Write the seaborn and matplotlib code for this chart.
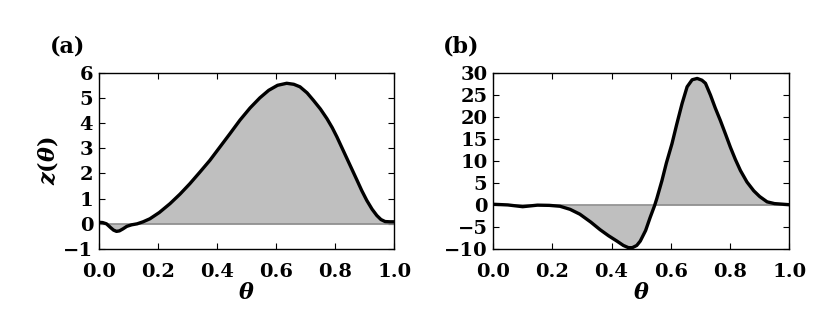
import numpy as np
import matplotlib
matplotlib.use("Agg")
import matplotlib.pyplot as plt
import seaborn as sns

# values
theta_a = [0.0, 0.013, 0.026, 0.04, 0.05, 0.06, 0.07, 0.082, 0.095, 0.111, 0.13, 0.15,
           0.173, 0.205, 0.241, 0.275, 0.308, 0.342, 0.376, 0.41, 0.444, 0.478, 0.512,
           0.545, 0.575, 0.605, 0.636, 0.66, 0.681, 0.705, 0.726, 0.75, 0.772, 0.79,
           0.806, 0.823, 0.84, 0.857, 0.874, 0.89, 0.907, 0.925, 0.941, 0.955, 0.969,
           0.985, 1.0]
z_a = [0.06, 0.05, 0.0, -0.15, -0.25, -0.3, -0.28, -0.2, -0.1, -0.04, 0.0, 0.08,
       0.2, 0.45, 0.8, 1.18, 1.59, 2.05, 2.52, 3.05, 3.58, 4.12, 4.6,
       5.0, 5.3, 5.5, 5.58, 5.54, 5.44, 5.2, 4.91, 4.56, 4.18, 3.82,
       3.45, 3.02, 2.59, 2.16, 1.73, 1.32, 0.93, 0.58, 0.33, 0.17, 0.09,
       0.08, 0.08]

theta_b = [0.0, 0.05, 0.1, 0.15, 0.19, 0.226, 0.26, 0.293, 0.33, 0.361, 0.39, 0.418,
           0.44, 0.457, 0.47, 0.485, 0.497, 0.515, 0.53, 0.545, 0.553, 0.57, 0.585,
           0.604, 0.62, 0.638, 0.655, 0.672, 0.689, 0.705, 0.717, 0.734, 0.75, 0.767,
           0.785, 0.801, 0.818, 0.835, 0.857, 0.88, 0.9, 0.925, 0.95, 0.97, 1.0]
z_b = [0.15, 0.0, -0.4, -0.05, -0.1, -0.3, -1.0, -2.1, -3.9, -5.6, -7.0, -8.2,
       -9.2, -9.7, -9.7, -9.2, -8.2, -5.8, -2.9, -0.2, 1.5, 5.5, 9.5,
       13.9, 18.3, 23.0, 26.8, 28.4, 28.7, 28.3, 27.6, 24.9, 22.0, 19.2,
       16.0, 13.1, 10.3, 7.8, 5.2, 3.2, 1.9, 0.7, 0.3, 0.2, 0.05]

xticks = [0.0, 0.2, 0.4, 0.6, 0.8, 1.0]
yticks_a = [-1, 0, 1, 2, 3, 4, 5, 6]
yticks_b = [-10, -5, 0, 5, 10, 15, 20, 25, 30]

sns.set_style("ticks")
plt.rcParams["font.family"] = ["DejaVu Serif"]
plt.rcParams["font.weight"] = "bold"
plt.rcParams["text.color"] = "black"
plt.rcParams["axes.labelcolor"] = "black"
plt.rcParams["xtick.color"] = "black"
plt.rcParams["ytick.color"] = "black"
plt.rcParams["mathtext.fontset"] = "custom"
plt.rcParams["mathtext.rm"] = "DejaVu Serif:bold"
plt.rcParams["mathtext.it"] = "DejaVu Serif:italic:bold"
plt.rcParams["mathtext.bf"] = "DejaVu Serif:bold"

fig = plt.figure(figsize=(8.3, 3.32), dpi=100)
ax_a = fig.add_axes([0.119, 0.25, 0.356, 0.531])
ax_b = fig.add_axes([0.594, 0.25, 0.357, 0.531])


def fmt(v):
    s = ("%.1f" % v) if isinstance(v, float) else ("%d" % v)
    return s.replace("-", "\u2212")


for ax, th, z, yt in [(ax_a, theta_a, z_a, yticks_a), (ax_b, theta_b, z_b, yticks_b)]:
    th = np.array(th)
    z = np.array(z)
    ax.fill_between(th, z, 0, color="#bfbfbf", linewidth=0)
    ax.axhline(0, color="#8c8c8c", lw=1.2, zorder=2)
    sns.lineplot(x=th, y=z, ax=ax, color="black", lw=2.4, zorder=3)
    ax.set_xlim(0, 1)
    ax.set_ylim(yt[0], yt[-1])
    ax.set_xticks(xticks)
    ax.set_xticklabels([fmt(v) for v in xticks], fontsize=14, fontweight="bold")
    ax.set_yticks(yt)
    ax.set_yticklabels([fmt(v) for v in yt], fontsize=14, fontweight="bold")
    ax.tick_params(direction="in", top=True, right=True, length=4, width=0.8)
    ax.tick_params(axis="x", pad=10)
    ax.tick_params(axis="y", pad=4)
    for sp in ax.spines.values():
        sp.set_linewidth(1.0)
        sp.set_color("black")
    ax.set_xlabel(r"$\theta$", fontsize=16, labelpad=1)

ax_a.set_ylabel(r"$z(\theta)$", fontsize=16, labelpad=2)

fig.text(50 / 830, 1 - 46 / 332, "(a)", fontsize=16, fontweight="bold", ha="left", va="center")
fig.text(443 / 830, 1 - 46 / 332, "(b)", fontsize=16, fontweight="bold", ha="left", va="center")

fig.savefig("out.png", dpi=100)
